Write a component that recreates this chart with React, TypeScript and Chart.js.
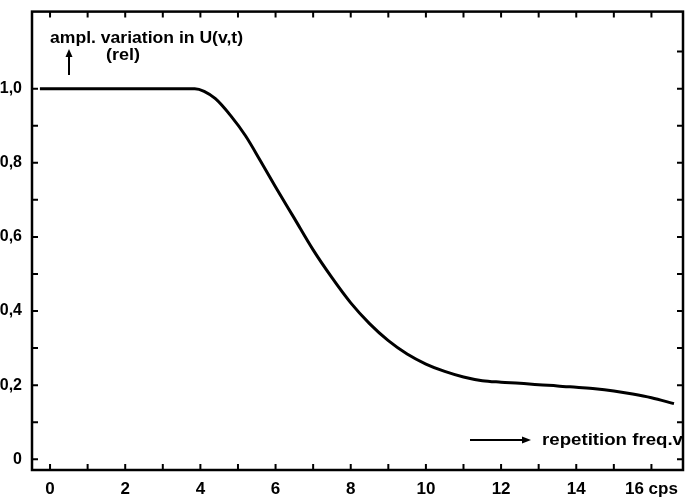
import React, { useEffect, useRef } from "react";
import { Chart, registerables } from "chart.js";

Chart.register(...registerables);

// Curve: relative amplitude variation vs repetition frequency (cps)
const freqValues = [-0.27, 0, 1, 2, 3, 3.6, 3.85, 4.1, 4.4, 4.8, 5.2, 5.6, 6.0, 6.5, 7.0, 7.5, 8.0, 8.5, 9.0, 9.5, 10.0, 10.5, 11.0, 11.5, 12.0, 12.5, 13.0, 13.5, 14.0, 14.5, 15.0, 15.5, 16.0, 16.6];
const amplValues = [1.0, 1.0, 1.0, 1.0, 1.0, 1.0, 1.0, 0.993, 0.973, 0.928, 0.873, 0.805, 0.735, 0.65, 0.565, 0.49, 0.422, 0.366, 0.32, 0.284, 0.257, 0.237, 0.222, 0.212, 0.208, 0.205, 0.201, 0.198, 0.194, 0.19, 0.184, 0.176, 0.166, 0.15];

// Tick labels
const xTickValues = [0, 2, 4, 6, 8, 10, 12, 14, 16];
const xTickLabels = ["0", "2", "4", "6", "8", "10", "12", "14", "16 cps"];
const yTickValues = [0, 0.2, 0.4, 0.6, 0.8, 1.0];
const yTickLabels = ["0", "0,2", "0,4", "0,6", "0,8", "1,0"];
const xMinorTicks = [0, 1, 2, 3, 4, 5, 6, 7, 8, 9, 10, 11, 12, 13, 14, 15, 16];
const yMinorTicksLeft = [0, 0.1, 0.2, 0.3, 0.4, 0.5, 0.6, 0.7, 0.8, 0.9, 1.0];
const yMinorTicksRight = [0, 0.1, 0.2, 0.3, 0.4, 0.5, 0.6, 0.7, 0.8, 0.9, 1.0, 1.1];

const yAxisTitle = "ampl. variation in U(v,t)";
const yAxisUnit = "(rel)";
const xAxisTitle = "repetition freq.v";

const FONT = "'Liberation Sans', Arial, sans-serif";

const framePlugin = {
  id: "frame",
  afterDatasetsDraw(chart: any) {
    const { ctx, chartArea, scales } = chart;
    const xs = scales.x;
    const ys = scales.y;
    const { left, right, top, bottom } = chartArea;
    ctx.save();
    ctx.strokeStyle = "#000";
    ctx.fillStyle = "#000";
    ctx.lineWidth = 2.5;
    ctx.lineCap = "butt";
    ctx.strokeRect(left, top, right - left, bottom - top);

    ctx.lineWidth = 2;
    const tl = 6;
    ctx.beginPath();
    xMinorTicks.forEach((v) => {
      const px = xs.getPixelForValue(v);
      ctx.moveTo(px, bottom);
      ctx.lineTo(px, bottom - tl);
      ctx.moveTo(px, top);
      ctx.lineTo(px, top + tl);
    });
    yMinorTicksLeft.forEach((v) => {
      const py = ys.getPixelForValue(v);
      ctx.moveTo(left, py);
      ctx.lineTo(left + tl, py);
    });
    yMinorTicksRight.forEach((v) => {
      const py = ys.getPixelForValue(v);
      ctx.moveTo(right, py);
      ctx.lineTo(right - tl, py);
    });
    ctx.stroke();

    // annotations
    ctx.font = `bold 16px ${FONT}`;
    ctx.textBaseline = "alphabetic";
    ctx.textAlign = "left";
    const drawFit = (txt: string, x: number, y: number, w: number) => {
      const m = ctx.measureText(txt).width;
      ctx.save();
      ctx.translate(x, y);
      ctx.scale(w / m, 1);
      ctx.fillText(txt, 0, 0);
      ctx.restore();
    };
    drawFit(yAxisTitle, 50, 43, 193);
    drawFit(yAxisUnit, 106, 60, 34);

    // up arrow
    ctx.lineWidth = 2;
    ctx.beginPath();
    ctx.moveTo(69, 75);
    ctx.lineTo(69, 54);
    ctx.stroke();
    ctx.beginPath();
    ctx.moveTo(69, 49);
    ctx.lineTo(65.5, 57);
    ctx.lineTo(72.5, 57);
    ctx.closePath();
    ctx.fill();

    // right arrow
    ctx.beginPath();
    ctx.moveTo(470, 440);
    ctx.lineTo(524, 440);
    ctx.stroke();
    ctx.beginPath();
    ctx.moveTo(531, 440);
    ctx.lineTo(522, 436.5);
    ctx.lineTo(522, 443.5);
    ctx.closePath();
    ctx.fill();

    drawFit(xAxisTitle, 542, 445, 141);
    ctx.restore();
  },
};

export default function App() {
  const canvasRef = useRef<HTMLCanvasElement | null>(null);

  useEffect(() => {
    const canvas = canvasRef.current;
    if (!canvas) return;
    const chart = new Chart(canvas, {
      type: "line",
      data: {
        datasets: [
          {
            data: freqValues.map((x, i) => ({ x, y: amplValues[i] })),
            borderColor: "#000",
            borderWidth: 3,
            pointRadius: 0,
            fill: false,
            cubicInterpolationMode: "monotone",
          },
        ],
      },
      options: {
        responsive: false,
        devicePixelRatio: 1,
        animation: false,
        layout: { padding: { top: 6, right: 16, left: 0, bottom: 0 } },
        plugins: { legend: { display: false }, tooltip: { enabled: false } },
        scales: {
          x: {
            type: "linear",
            min: -0.48,
            max: 16.84,
            afterBuildTicks: (s: any) => {
              s.ticks = xTickValues.map((v) => ({ value: v }));
            },
            afterFit: (s: any) => {
              s.height = 27;
            },
            ticks: {
              autoSkip: false,
              maxRotation: 0,
              color: "#000",
              padding: 2,
              font: { family: FONT, size: 17, weight: "bold", lineHeight: 1.1 },
              callback: (v: any) => {
                const i = xTickValues.indexOf(Number(v));
                return i >= 0 ? xTickLabels[i] : "";
              },
            },
            grid: { display: false },
            border: { display: false },
          },
          y: {
            type: "linear",
            min: -0.029,
            max: 1.208,
            afterBuildTicks: (s: any) => {
              s.ticks = yTickValues.map((v) => ({ value: v }));
            },
            afterFit: (s: any) => {
              s.width = 32;
            },
            ticks: {
              autoSkip: false,
              color: "#000",
              padding: 2,
              font: { family: FONT, size: 16, weight: "bold" },
              callback: (v: any) => {
                const i = yTickValues.findIndex((t) => Math.abs(t - Number(v)) < 1e-6);
                return i >= 0 ? yTickLabels[i] : "";
              },
            },
            grid: { display: false },
            border: { display: false },
          },
        },
      },
      plugins: [framePlugin],
    } as any);
    return () => chart.destroy();
  }, []);

  return (
    <div style={{ position: "fixed", left: 0, top: 0, width: 699, height: 497, background: "#fff" }}>
      <canvas ref={canvasRef} width={699} height={497} style={{ width: 699, height: 497, display: "block" }} />
    </div>
  );
}
